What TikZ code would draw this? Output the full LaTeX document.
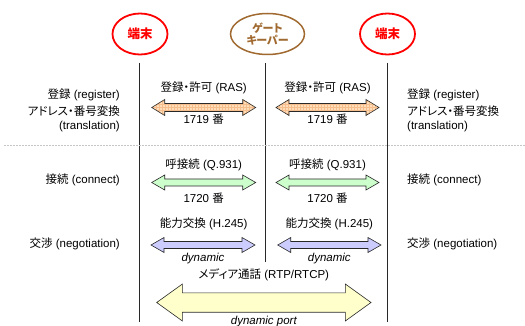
\documentclass[tikz,border=0pt]{standalone}
\usepackage{fontspec}
\setmainfont{Liberation Sans}
\newfontfamily\jp[RawFeature={+palt}]{Noto Sans CJK JP}
\usetikzlibrary{patterns,shapes.geometric}
\newcommand\J[1]{{\jp #1}}
\definecolor{peach}{RGB}{255,221,185}
\definecolor{peachgrid}{RGB}{246,190,140}
\definecolor{mint}{RGB}{204,255,204}
\definecolor{lav}{RGB}{204,204,255}
\definecolor{cream}{RGB}{255,255,204}
\definecolor{gkbrown}{RGB}{160,105,48}
\definecolor{edge}{RGB}{40,40,40}
\newcommand\dblarr[7]{%
  \path[#7] (#1,#3) -- (#1+#6,#3-#5) -- (#1+#6,#3-#4) -- (#2-#6,#3-#4) -- (#2-#6,#3-#5) -- (#2,#3)
   -- (#2-#6,#3+#5) -- (#2-#6,#3+#4) -- (#1+#6,#3+#4) -- (#1+#6,#3+#5) -- cycle;}
\begin{document}
\begin{tikzpicture}[x=1pt,y=-1pt,
  font=\fontsize{11.5}{13}\selectfont,
  lbl/.style={inner sep=0pt, text height=8.5pt, text depth=2.5pt},
  term/.style={ellipse, draw=red, line width=1.8pt, minimum width=55pt, minimum height=41pt, inner sep=0pt, text=red, font=\fontsize{12.5}{13}\selectfont\jp\bfseries},
  gk/.style={ellipse, draw=gkbrown, line width=1.5pt, minimum width=74pt, minimum height=41pt, inner sep=0pt, text=gkbrown, align=center, font=\fontsize{11}{11.5}\selectfont\jp\bfseries},
  vline/.style={draw=edge, line width=0.7pt},
  arrRAS/.style={draw=edge, line width=0.6pt, preaction={fill=peach}, pattern=grid, pattern color=peachgrid},
  arrQ/.style={draw=edge, line width=0.6pt, fill=mint},
  arrH/.style={draw=edge, line width=0.6pt, fill=lav},
  arrM/.style={draw=edge, line width=0.6pt, fill=cream}]
\useasboundingbox (0,0) rectangle (525,326);

% endpoints
\node[term] (t1) at (140,34) {端末};
\node[gk] (gk) at (267.5,34) {ゲート\\キーパー};
\node[term] (t2) at (387.5,34) {端末};

\coordinate (l1a) at (139,63);  \coordinate (l1b) at (139,322);
\coordinate (l2a) at (265.7,63); \coordinate (l2b) at (265.7,262);
\coordinate (l3a) at (387.7,63); \coordinate (l3b) at (387.7,322);
\draw[vline] (l1a) -- (l1b);
\draw[vline] (l2a) -- (l2b);
\draw[vline] (l3a) -- (l3b);

% separator
\coordinate (sepL) at (4,145.7); \coordinate (sepR) at (525,145.7);
\draw[gray!45, line width=0.8pt, dash pattern=on 2pt off 1pt] (sepL) -- (sepR);

% RAS
\dblarr{151.7}{255.7}{107.5}{4}{8}{13}{arrRAS}
\dblarr{276}{379}{107.5}{4}{8}{13}{arrRAS}
\node[lbl] (ras1) at (203.7,89) {\J{登録・許可} (RAS)};
\node[lbl] (ras2) at (327.5,89) {\J{登録・許可} (RAS)};
\node[lbl] (p1) at (203.7,121) {1719 \J{番}};
\node[lbl] (p2) at (327.5,121) {1719 \J{番}};

\node[lbl, anchor=east] (lr1) at (120,96) {\J{登録} (register)};
\node[lbl, anchor=east] (lr2) at (120,112.7) {\J{アドレス・番号変換}};
\node[lbl, anchor=east] (lr3) at (120,126.7) {(translation)};
\node[lbl, anchor=west] (rr1) at (407,96) {\J{登録} (register)};
\node[lbl, anchor=west] (rr2) at (407,112.7) {\J{アドレス・番号変換}};
\node[lbl, anchor=west] (rr3) at (407,126.7) {(translation)};

% Q.931
\dblarr{151.7}{255.7}{182.5}{3.5}{7.5}{13}{arrQ}
\dblarr{276}{379}{182.5}{3.5}{7.5}{13}{arrQ}
\node[lbl] (q1) at (203.7,165.7) {\J{呼接続} (Q.931)};
\node[lbl] (q2) at (327.5,165.7) {\J{呼接続} (Q.931)};
\node[lbl] (q3) at (203.7,200) {1720 \J{番}};
\node[lbl] (q4) at (327.5,200) {1720 \J{番}};
\node[lbl, anchor=east] (lc) at (120,181) {\J{接続} (connect)};
\node[lbl, anchor=west] (rc) at (407,181) {\J{接続} (connect)};

% H.245
\dblarr{151}{255}{245}{3.5}{7.5}{13}{arrH}
\dblarr{277.7}{381}{245}{3.5}{7.5}{13}{arrH}
\node[lbl] (h1) at (203.7,224.3) {\J{能力交換} (H.245)};
\node[lbl] (h2) at (329.3,224.3) {\J{能力交換} (H.245)};
\node[lbl] (h3) at (203,258.3) {\itshape dynamic};
\node[lbl] (h4) at (329.3,258.3) {\itshape dynamic};
\node[lbl, anchor=east] (ln) at (120,244) {\J{交渉} (negotiation)};
\node[lbl, anchor=west] (rn) at (407,244) {\J{交渉} (negotiation)};

% media
\dblarr{156.7}{371}{302.5}{9.7}{18.5}{25.7}{arrM}
\node[lbl] (m1) at (263.8,275.7) {\J{メディア通話} (RTP/RTCP)};
\node[lbl] (m2) at (263.8,321.7) {\itshape dynamic port};
\end{tikzpicture}
\end{document}
